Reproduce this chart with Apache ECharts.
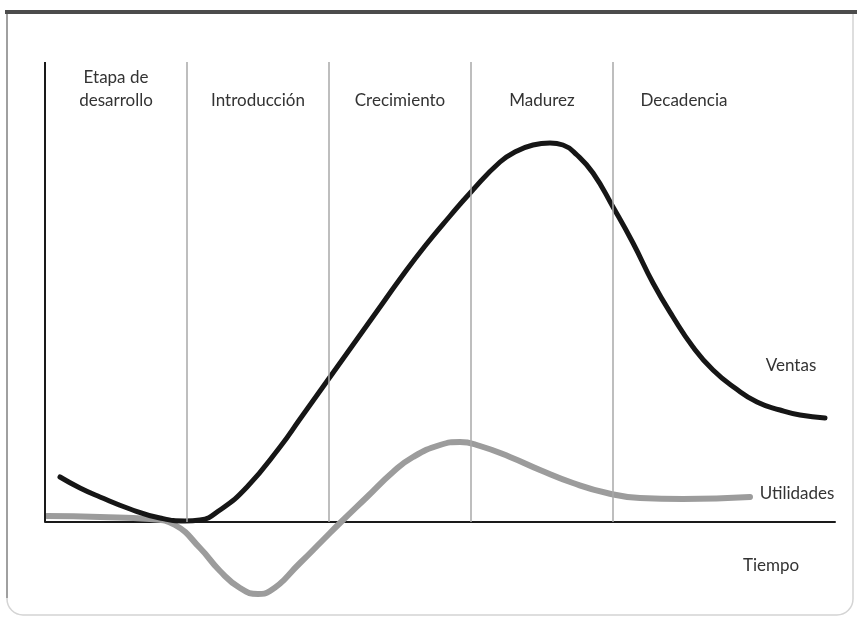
<!DOCTYPE html>
<html>
<head>
<meta charset="utf-8">
<script src="https://cdn.jsdelivr.net/npm/echarts@6/dist/echarts.min.js"></script>
<style>
  html, body { margin: 0; padding: 0; background: #fff; }
  #chart { width: 857px; height: 617px; }
</style>
</head>
<body>
<div id="chart"></div>
<script>
// Product life cycle: sales and profit over time, split into five stages.
const stageNames = ['Etapa de\ndesarrollo', 'Introducción', 'Crecimiento', 'Madurez', 'Decadencia'];
const stageBounds = [0, 142, 284, 426, 568, 710];

// Ventas (sales) curve, [time, value]
const ventas = [
  [15, 45], [35, 34], [55, 25], [85, 13], [115, 4], [140, 1], [155, 2],
  [175, 12], [202, 35], [235, 75], [255, 103], [275, 131], [295, 159],
  [315, 187], [335, 215], [355, 243], [380, 276], [405, 306], [426, 330],
  [455, 360], [472, 371], [488, 377], [505, 379], [518, 377], [532, 367],
  [548, 349], [568, 315], [588, 279], [608, 239], [628, 205], [648, 175],
  [668, 152], [690, 134], [712, 120], [735, 112], [755, 107], [780, 104]
];

// Utilidades (profit) curve, [time, value]
const utilidades = [
  [2, 6], [55, 5], [105, 3], [130, -3], [155, -26], [175, -49], [195, -66],
  [213, -72], [225, -69], [255, -41], [278, -18], [295, -1], [322, 25],
  [348, 50], [368, 65], [395, 77], [415, 80], [435, 76], [465, 65],
  [495, 52], [528, 39], [562, 29], [595, 24], [638, 23], [705, 25]
];

const axisTop = 460;
const textColor = '#333333';
const labelFont = '400 17px Lato, "Open Sans", sans-serif';

const chart = echarts.init(document.getElementById('chart'), null, { renderer: 'canvas' });

const dividerLines = stageBounds.slice(1, -1).map(x => [
  { coord: [x, 0] }, { coord: [x, axisTop] }
]);

const option = {
  animation: false,
  backgroundColor: '#fff',
  grid: { left: 45, right: 22, top: 62, bottom: 15 },
  xAxis: {
    type: 'value', min: 0, max: 790,
    axisLine: { show: true, onZero: true, lineStyle: { color: '#1a1a1a', width: 2 } },
    axisTick: { show: false }, axisLabel: { show: false }, splitLine: { show: false }
  },
  yAxis: {
    type: 'value', min: -80, max: axisTop,
    axisLine: { show: false }, axisTick: { show: false },
    axisLabel: { show: false }, splitLine: { show: false }
  },
  series: [
    {
      name: 'stages', type: 'line', data: [], silent: true,
      markLine: {
        symbol: 'none', silent: true, label: { show: false },
        lineStyle: { color: '#a8a8a8', width: 1.5, type: 'solid' },
        data: dividerLines
      }
    },
    {
      name: 'axis', type: 'line', data: [], silent: true,
      markLine: {
        symbol: 'none', silent: true, label: { show: false },
        lineStyle: { color: '#1a1a1a', width: 2, type: 'solid' },
        data: [[{ coord: [0, 0] }, { coord: [0, axisTop] }]]
      }
    },
    {
      name: 'Utilidades', type: 'line', data: utilidades, smooth: 0.5,
      showSymbol: false, z: 3,
      lineStyle: { color: '#9c9c9c', width: 6, cap: 'round', join: 'round' }
    },
    {
      name: 'Ventas', type: 'line', data: ventas, smooth: 0.5,
      showSymbol: false, z: 4,
      lineStyle: { color: '#161616', width: 5, cap: 'round', join: 'round' }
    }
  ]
};
chart.setOption(option);

// Stage titles centred in each stage column, plus the curve/axis names.
const stageTexts = stageNames.map((name, i) => {
  const cx = (stageBounds[i] + stageBounds[i + 1]) / 2;
  const px = chart.convertToPixel({ gridIndex: 0 }, [cx, 0])[0];
  return {
    type: 'text', x: px, y: 112, z: 10,
    style: {
      text: name, fill: textColor, font: labelFont,
      align: 'center', verticalAlign: 'bottom', lineHeight: 23
    }
  };
});

const note = (text, x, y) => ({
  type: 'text', x, y, z: 10,
  style: { text, fill: textColor, font: labelFont, align: 'center', verticalAlign: 'middle' }
});

chart.setOption({
  graphic: [
    // card outline
    {
      type: 'rect', z: 0, silent: true,
      shape: { x: 7, y: 12, width: 846, height: 603, r: [0, 0, 16, 16] },
      style: { fill: 'none', stroke: '#d4d4d4', lineWidth: 1.5 }
    },
    {
      type: 'line', z: 1, silent: true,
      shape: { x1: 7, y1: 12, x2: 7, y2: 598 },
      style: { stroke: '#a0a0a0', lineWidth: 2 }
    },
    {
      type: 'rect', z: 2, silent: true,
      shape: { x: 5, y: 10, width: 852, height: 4 },
      style: { fill: '#4c4c4c' }
    },
    ...stageTexts,
    note('Ventas', 791, 366),
    note('Utilidades', 797, 494),
    note('Tiempo', 771, 566)
  ]
});
</script>
</body>
</html>
